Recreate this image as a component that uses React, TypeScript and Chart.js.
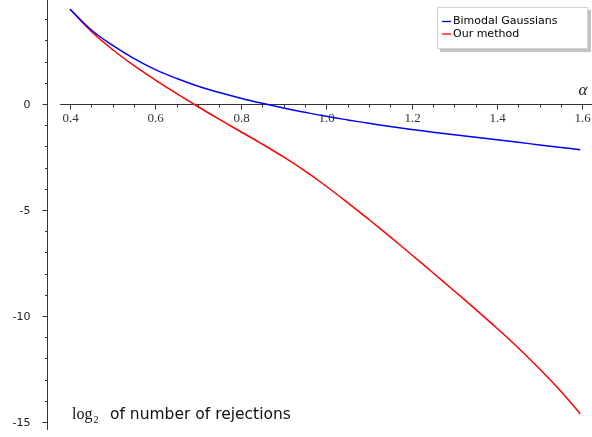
import { useEffect, useRef } from 'react';
import { Chart, registerables } from 'chart.js';

Chart.register(...registerables);

// ---- data ----
const alphaValues = [0.4, 0.45, 0.5, 0.55, 0.6, 0.65, 0.7, 0.75, 0.8, 0.85, 0.9, 0.95, 1.0, 1.05, 1.1, 1.15, 1.2, 1.25, 1.3, 1.35, 1.4, 1.45, 1.5, 1.55, 1.595];
const bimodalGaussians = [4.47, 3.49, 2.76, 2.14, 1.62, 1.2, 0.84, 0.54, 0.27, 0.03, -0.19, -0.39, -0.58, -0.75, -0.91, -1.06, -1.2, -1.33, -1.45, -1.57, -1.69, -1.81, -1.93, -2.05, -2.16];
const ourMethod = [4.47, 3.42, 2.56, 1.81, 1.13, 0.49, -0.13, -0.73, -1.31, -1.89, -2.5, -3.16, -3.88, -4.65, -5.45, -6.27, -7.11, -7.96, -8.82, -9.69, -10.58, -11.51, -12.5, -13.56, -14.62];
const seriesLabels = ['Bimodal Gaussians', 'Our method'];
const seriesColors = ['#0000ff', '#ff0000'];

const xMajorTicks = [0.4, 0.6, 0.8, 1.0, 1.2, 1.4, 1.6];
const xMajorLabels = ['0.4', '0.6', '0.8', '1.0', '1.2', '1.4', '1.6'];
const xMinorTicks = [0.45, 0.5, 0.55, 0.65, 0.7, 0.75, 0.85, 0.9, 0.95, 1.05, 1.1, 1.15, 1.25, 1.3, 1.35, 1.45, 1.5, 1.55];
const yMajorTicks = [0, -5, -10, -15];
const yMajorLabels = ['0', '-5', '-10', '-15'];
const yMinorTicks = [4, 3, 2, 1, -1, -2, -3, -4, -6, -7, -8, -9, -11, -12, -13, -14];

const X_MIN = 0.346;
const X_MAX = 1.6225;
const Y_MIN = -15.38;
const Y_MAX = 4.906;
const X_AXIS_START = 0.3766;

const axesPlugin = {
  id: 'customAxes',
  beforeDatasetsDraw(chart: any) {
    const { ctx, chartArea, scales } = chart;
    const xs = scales.x;
    const ys = scales.y;
    const y0 = Math.round(ys.getPixelForValue(0)) + 0.5;
    const xLeft = Math.round(chartArea.left) + 0.5;
    ctx.save();
    ctx.strokeStyle = '#333';
    ctx.lineWidth = 1;
    // y axis line
    ctx.beginPath();
    ctx.moveTo(xLeft, chartArea.top);
    ctx.lineTo(xLeft, chartArea.bottom);
    ctx.stroke();
    // y ticks
    yMinorTicks.forEach((v) => {
      const p = Math.round(ys.getPixelForValue(v)) + 0.5;
      ctx.beginPath();
      ctx.moveTo(xLeft - 2.5, p);
      ctx.lineTo(xLeft, p);
      ctx.stroke();
    });
    ctx.fillStyle = '#222';
    ctx.font = '11px "DejaVu Sans"';
    ctx.textAlign = 'right';
    ctx.textBaseline = 'middle';
    yMajorTicks.forEach((v, i) => {
      const p = Math.round(ys.getPixelForValue(v)) + 0.5;
      ctx.beginPath();
      ctx.moveTo(xLeft - 5, p);
      ctx.lineTo(xLeft, p);
      ctx.stroke();
      ctx.fillText(yMajorLabels[i], xLeft - 17, p + 1);
    });
    // x axis line
    ctx.beginPath();
    ctx.moveTo(xs.getPixelForValue(X_AXIS_START), y0);
    ctx.lineTo(chartArea.right, y0);
    ctx.stroke();
    xMinorTicks.forEach((v) => {
      const p = Math.round(xs.getPixelForValue(v)) + 0.5;
      ctx.beginPath();
      ctx.moveTo(p, y0);
      ctx.lineTo(p, y0 + 3);
      ctx.stroke();
    });
    ctx.font = '13px "Liberation Serif"';
    ctx.textAlign = 'center';
    ctx.textBaseline = 'top';
    ctx.fillStyle = '#333';
    xMajorTicks.forEach((v, i) => {
      const p = Math.round(xs.getPixelForValue(v)) + 0.5;
      ctx.beginPath();
      ctx.moveTo(p, y0);
      ctx.lineTo(p, y0 + 5);
      ctx.stroke();
      ctx.fillText(xMajorLabels[i], p, y0 + 8);
    });
    ctx.restore();
  },
  afterDraw(chart: any) {
    const { ctx, chartArea } = chart;
    ctx.save();
    // alpha axis label
    ctx.fillStyle = '#222';
    ctx.font = 'italic 17px "Liberation Serif"';
    ctx.textAlign = 'center';
    ctx.textBaseline = 'alphabetic';
    ctx.fillText('α', chartArea.right - 9, 95);
    // bottom label
    ctx.textAlign = 'left';
    ctx.font = '16px "Liberation Serif"';
    ctx.fillStyle = '#111';
    ctx.fillText('log', 72, 419);
    const lw = ctx.measureText('log').width;
    ctx.font = '10px "Liberation Serif"';
    ctx.fillText('2', 72 + lw + 1, 423);
    ctx.font = '15.5px "DejaVu Sans"';
    ctx.fillText('of number of rejections', 110, 419);
    // legend box
    const bx = 437, by = 7, bw = 151, bh = 42;
    ctx.fillStyle = '#c4c4c4';
    ctx.fillRect(bx + 3, by + 3, bw, bh);
    ctx.fillStyle = '#ffffff';
    ctx.fillRect(bx, by, bw, bh);
    ctx.strokeStyle = '#d4d4d4';
    ctx.lineWidth = 1;
    ctx.strokeRect(bx + 0.5, by + 0.5, bw - 1, bh - 1);
    ctx.font = '11px "DejaVu Sans"';
    ctx.textBaseline = 'middle';
    chart.data.datasets.forEach((ds: any, i: number) => {
      const cy = 21.5 + i * 12.5;
      ctx.strokeStyle = ds.borderColor;
      ctx.lineWidth = 1.3;
      ctx.beginPath();
      ctx.moveTo(442, cy);
      ctx.lineTo(451, cy);
      ctx.stroke();
      ctx.fillStyle = '#000';
      ctx.fillText(ds.label, 453, cy);
    });
    ctx.restore();
  },
};

export default function App() {
  const canvasRef = useRef<HTMLCanvasElement | null>(null);

  useEffect(() => {
    document.body.style.margin = '0';
    const canvas = canvasRef.current;
    if (!canvas) return;
    const series = [bimodalGaussians, ourMethod];
    const chart = new Chart(canvas, {
      type: 'line',
      data: {
        datasets: series.map((vals, i) => ({
          label: seriesLabels[i],
          data: alphaValues.map((a, j) => ({ x: a, y: vals[j] })),
          borderColor: seriesColors[i],
          backgroundColor: seriesColors[i],
          borderWidth: 1.5,
          pointRadius: 0,
          fill: false,
          tension: 0.4,
        })),
      },
      options: {
        animation: false,
        responsive: false,
        devicePixelRatio: 1,
        layout: { padding: { left: 47, top: 0, right: 0, bottom: 7 } },
        plugins: { legend: { display: false }, tooltip: { enabled: false } },
        scales: {
          x: { type: 'linear', min: X_MIN, max: X_MAX, display: false },
          y: { type: 'linear', min: Y_MIN, max: Y_MAX, display: false },
        },
      },
      plugins: [axesPlugin],
    });
    return () => chart.destroy();
  }, []);

  return (
    <div style={{ position: 'fixed', left: 0, top: 0, width: 592, height: 437, background: '#fff' }}>
      <canvas ref={canvasRef} width={592} height={437} />
    </div>
  );
}
